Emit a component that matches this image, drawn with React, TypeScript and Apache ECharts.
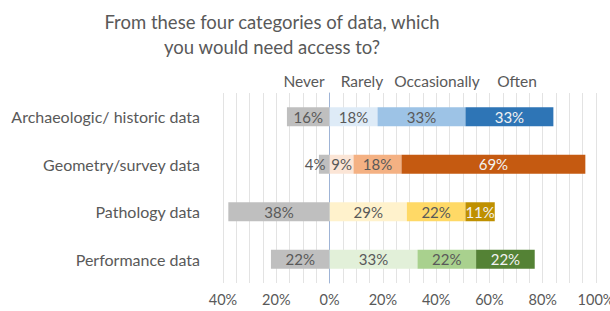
import React, { useEffect, useRef } from "react";
import * as echarts from "echarts";

const categories = [
  "Archaeologic/ historic data",
  "Geometry/survey data",
  "Pathology data",
  "Performance data",
];
const neverVals = [16, 4, 38, 22];
const rarelyVals = [18, 9, 29, 33];
const occasionallyVals = [33, 18, 22, 22];
const oftenVals = [33, 69, 11, 22];
const legendNames = ["Never", "Rarely", "Occasionally", "Often"];
const tickValues = [-40, -20, 0, 20, 40, 60, 80, 100];

const grayColor = "#bfbfbf";
const rarelyColors = ["#deebf7", "#fbe5d6", "#fff2cc", "#e2f0d9"];
const occColors = ["#9dc3e6", "#f4b183", "#ffd966", "#a9d18e"];
const oftenColors = ["#2e75b6", "#c55a11", "#bf9000", "#548235"];

const FONT = "Lato";
const TXT = "#595959";

export default function App() {
  const ref = useRef<HTMLDivElement>(null);
  useEffect(() => {
    const chart = echarts.init(ref.current!, undefined, { renderer: "svg" });
    const lbl = (color: string) => ({
      show: true,
      position: "inside" as const,
      color,
      fontFamily: FONT,
      fontSize: 15,
      formatter: (p: any) => Math.abs(p.value) + "%",
    });
    const mk = (vals: number[], colors: string[] | null, sign: number) =>
      vals.map((v, i) => ({
        value: sign * v,
        itemStyle: { color: colors ? colors[i] : grayColor },
      }));
    const neverData = mk(neverVals, null, -1).map((d, i) =>
      neverVals[i] < 8
        ? { ...d, label: { position: "insideRight" as const, distance: 4 } }
        : d
    );
    const series: any[] = [
      { name: legendNames[0], data: neverData, label: lbl(TXT) },
      { name: legendNames[1], data: mk(rarelyVals, rarelyColors, 1), label: lbl(TXT) },
      { name: legendNames[2], data: mk(occasionallyVals, occColors, 1), label: lbl(TXT) },
      { name: legendNames[3], data: mk(oftenVals, oftenColors, 1), label: lbl("#f2f2f2") },
    ].map((s) => ({
      ...s,
      type: "bar",
      stack: "total",
      barWidth: 19,
      stackStrategy: "samesign",
    }));
    const legendX = [304, 362, 437, 517];
    chart.setOption({
      animation: false,
      grid: {
        left: 223,
        right: 14,
        top: 93,
        bottom: 28,
        containLabel: false,
        outerBoundsMode: "none",
      },
      xAxis: {
        type: "value",
        min: -40,
        max: 100,
        interval: 5,
        axisLine: { show: false },
        axisTick: { show: false },
        splitLine: { show: true, lineStyle: { color: "#e3e3e3", width: 1 } },
        axisLabel: {
          color: TXT,
          fontFamily: FONT,
          fontSize: 14.5,
          margin: 9,
          formatter: (v: number) =>
            tickValues.includes(v) ? Math.abs(v) + "%" : "",
        },
      },
      yAxis: {
        type: "category",
        data: categories,
        inverse: true,
        axisTick: { show: false },
        axisLine: { show: true, onZero: true, lineStyle: { color: "#9fb4d6", width: 1 } },
        axisLabel: {
          color: TXT,
          fontFamily: FONT,
          fontSize: 16,
          margin: 23,
        },
      },
      series,
      graphic: [
        {
          type: "text",
          x: 272,
          y: 9,
          style: {
            text: "From these four categories of data, which\nyou would need access to?",
            fill: TXT,
            font: `18.5px ${FONT}`,
            textAlign: "center",
            lineHeight: 25,
          },
        },
        ...legendNames.map((n, i) => ({
          type: "text",
          x: legendX[i],
          y: 73,
          style: {
            text: n,
            fill: TXT,
            font: `15.5px ${FONT}`,
            textAlign: "center",
          },
        })),
      ],
    });
    return () => chart.dispose();
  }, []);
  return (
    <div
      ref={ref}
      style={{ position: "absolute", left: 0, top: 0, width: 610, height: 311 }}
    />
  );
}
